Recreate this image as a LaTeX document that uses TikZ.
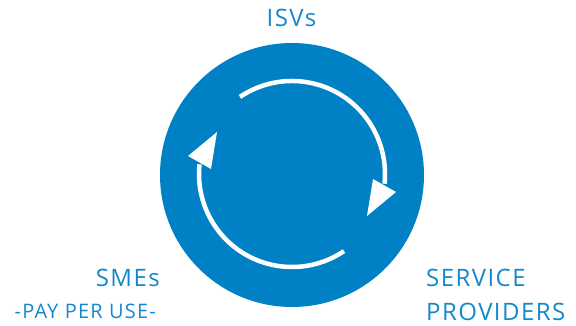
\documentclass[tikz,border=0pt]{standalone}
\usepackage{fontspec}
\setmainfont{Open Sans}
\newfontfamily\lblfont{Open Sans}[LetterSpace=6]
\newfontfamily\subfont{Open Sans}[LetterSpace=6]
\usetikzlibrary{calc}
\definecolor{cblue}{RGB}{0,129,197}
\definecolor{tblue}{RGB}{20,136,205}
\begin{document}
\begin{tikzpicture}[x=1pt,y=1pt,
  lbl/.style={inner sep=0pt, text=tblue, font=\lblfont\fontsize{24}{24}\selectfont},
  sub/.style={inner sep=0pt, text=tblue, font=\subfont\fontsize{20}{20}\selectfont},
  ring/.style={draw=white, line width=4.5pt},
  head/.style={fill=white}]
\useasboundingbox (0,0) rectangle (576,326);
\fill[cblue] (292,151) circle[radius=132];
\coordinate (c) at (292,152);
% upper arc
\draw[ring] (c) ++(124:93) arc[start angle=124, end angle=-6, radius=93];
\fill[head] ($(c)+(81,-5)$) -- ($(c)+(104,-18)$) -- ($(c)+(75,-42)$) -- cycle;
% lower arc
\draw[ring] (c) ++(-56:93) arc[start angle=-56, end angle=-186, radius=93];
\fill[head] ($(c)+(-81,5)$) -- ($(c)+(-104,18)$) -- ($(c)+(-75,42)$) -- cycle;
% labels
\node[lbl, anchor=base] (isv) at (291.5,299) {ISVs};
\node[lbl, anchor=base west] (sp1) at (426,39) {SERVICE};
\node[lbl, anchor=base west] (sp2) at (426,5) {PROVIDERS};
\node[lbl, anchor=base east] (sme) at (160,39) {SMEs};
\node[sub, anchor=base east] (ppu) at (156,7) {-PAY PER USE-};
\end{tikzpicture}
\end{document}
